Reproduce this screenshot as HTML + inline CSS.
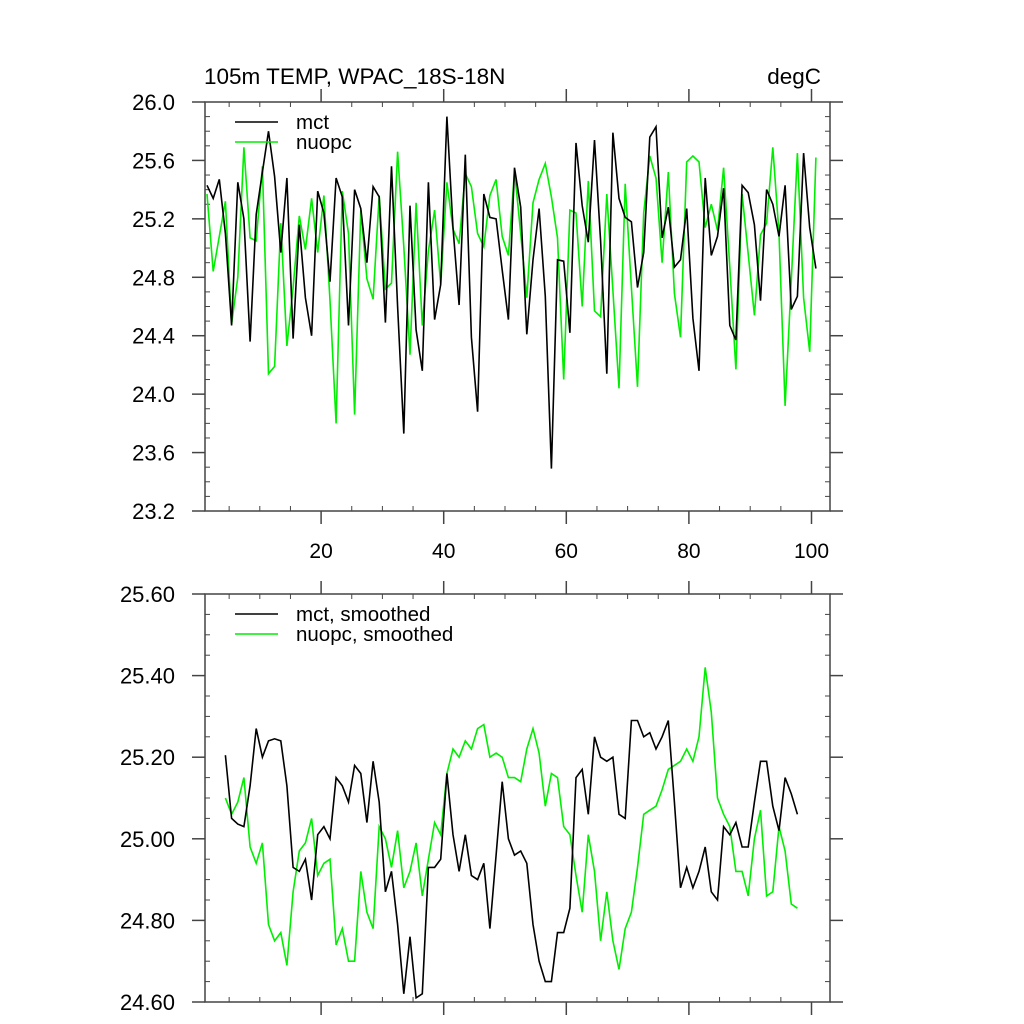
<!DOCTYPE html>
<html><head><meta charset="utf-8"><style>
html,body{margin:0;padding:0;background:#fff}
svg{display:block;font-family:"Liberation Sans",sans-serif}
</style></head><body>
<svg id="chart" width="1024" height="1024" viewBox="0 0 1024 1024" xmlns="http://www.w3.org/2000/svg">
<rect width="1024" height="1024" fill="#fff"/>
<text x="204" y="84" font-size="22.5" fill="#000">105m TEMP, WPAC_18S-18N</text>
<text x="821" y="84" font-size="22.5" fill="#000" text-anchor="end">degC</text>
<g id="top"></g>
<g id="bot"></g>
</svg>
<script>
const mctRaw=[25.43,25.34,25.47,25.10,24.47,25.45,25.20,24.36,25.23,25.52,25.80,25.49,24.97,25.48,24.38,25.16,24.66,24.40,25.39,25.24,24.77,25.48,25.35,24.47,25.40,25.27,24.90,25.42,25.35,24.49,25.56,24.60,23.73,25.29,24.44,24.16,25.45,24.51,24.75,25.90,25.14,24.61,25.64,24.39,23.88,25.37,25.21,25.20,24.85,24.51,25.55,25.28,24.41,24.92,25.27,24.67,23.49,24.92,24.91,24.42,25.72,25.29,25.04,25.74,25.05,24.14,25.79,25.34,25.21,25.18,24.73,24.97,25.76,25.83,25.07,25.28,24.87,24.92,25.27,24.52,24.16,25.48,24.95,25.08,25.41,24.47,24.37,25.43,25.38,25.16,24.64,25.40,25.30,25.08,25.43,24.58,24.67,25.65,25.14,24.86];
const nuopcRaw=[25.37,24.84,25.08,25.32,24.48,24.80,25.69,25.07,25.05,25.56,24.14,24.19,25.17,24.33,24.73,25.22,24.99,25.34,24.97,25.36,24.64,23.80,25.39,25.10,23.86,25.26,24.79,24.65,25.36,24.72,24.76,25.66,25.01,24.27,25.31,24.47,24.98,25.26,24.75,25.45,25.13,25.03,25.51,25.42,25.10,25.01,25.36,25.47,25.08,24.95,25.53,25.10,24.66,25.31,25.47,25.58,25.35,25.07,24.10,25.26,25.24,24.60,25.46,24.57,24.53,25.37,24.71,24.04,25.44,24.73,24.05,25.24,25.63,25.48,24.90,25.52,24.69,24.39,25.59,25.63,25.59,25.14,25.30,25.12,25.55,24.87,24.17,25.37,24.96,24.54,25.09,25.17,25.69,25.10,23.92,24.78,25.65,24.66,24.29,25.62];
const mctSmooth=[25.205,25.05,25.036,25.03,25.13,25.27,25.20,25.24,25.245,25.24,25.13,24.93,24.92,24.95,24.85,25.01,25.03,25.00,25.15,25.13,25.09,25.18,25.16,25.04,25.19,25.09,24.87,24.92,24.79,24.62,24.76,24.61,24.62,24.93,24.93,24.95,25.16,25.01,24.92,25.01,24.91,24.90,24.94,24.78,24.96,25.14,25.00,24.96,24.97,24.94,24.79,24.70,24.65,24.65,24.77,24.77,24.83,25.15,25.17,25.06,25.25,25.20,25.19,25.20,25.06,25.05,25.29,25.29,25.25,25.26,25.22,25.25,25.29,25.09,24.88,24.93,24.88,24.92,24.98,24.87,24.85,25.03,25.01,25.04,24.98,24.98,25.09,25.19,25.19,25.08,25.02,25.15,25.11,25.06];
const nuopcSmooth=[25.10,25.06,25.09,25.15,24.98,24.94,24.99,24.79,24.75,24.77,24.69,24.87,24.97,24.99,25.05,24.91,24.94,24.95,24.74,24.78,24.70,24.70,24.92,24.82,24.78,25.03,25.00,24.93,25.02,24.88,24.92,24.99,24.86,24.95,25.04,25.01,25.16,25.22,25.20,25.24,25.22,25.27,25.28,25.20,25.21,25.20,25.15,25.15,25.14,25.22,25.27,25.21,25.08,25.16,25.15,25.03,25.01,24.91,24.82,25.01,24.92,24.75,24.87,24.75,24.68,24.78,24.82,24.93,25.06,25.07,25.08,25.12,25.17,25.18,25.19,25.22,25.19,25.25,25.42,25.31,25.10,25.06,25.03,24.92,24.92,24.86,25.00,25.07,24.86,24.87,25.03,24.97,24.84,24.83];
const rawStartX=1;
const smoothStartX=4;
const xTicks=[20,40,60,80,100];
const topYTicks=[26.0,25.6,25.2,24.8,24.4,24.0,23.6,23.2];
const botYTicks=[25.60,25.40,25.20,25.00,24.80,24.60];

const NS="http://www.w3.org/2000/svg";
function mk(tag,attrs,parent){const e=document.createElementNS(NS,tag);for(const k in attrs)e.setAttribute(k,attrs[k]);parent.appendChild(e);return e;}
const L=205,R=830;
const xs=v=>207+(v-1)*6.15;
const xTickPos=v=>198.5+v*6.13;

function panel(g,top,bottom,ymin,ymax,major,minor,yTicks,dec,series,startX,legend,showXLabels){
  const ys=v=>bottom-(v-ymin)/(ymax-ymin)*(bottom-top);
  const ax="#444";
  for(let v=5;v<=100;v+=5){
    const x=xTickPos(v);
    if(v%20===0){
      const t1=mk('line',{x1:x,x2:x,y1:bottom,y2:bottom+13,stroke:ax,'stroke-width':1.5},g);
      
      
      const t2=mk('line',{x1:x,x2:x,y1:top,y2:top-13,stroke:ax,'stroke-width':1.5},g);
      
      
    } else {
      const t1=mk('line',{x1:x,x2:x,y1:bottom,y2:bottom-5,stroke:ax,'stroke-width':1},g);
      
      
      const t2=mk('line',{x1:x,x2:x,y1:top,y2:top+5,stroke:ax,'stroke-width':1},g);
      
      
    }
  }
  if(showXLabels){
    xTicks.forEach(v=>{
      const t=mk('text',{x:xTickPos(v),y:bottom+47,'font-size':21,'text-anchor':'middle',fill:'#000'},g);
      t.textContent=v;
      
      
    });
  }
  const n=Math.round((ymax-ymin)/minor);
  for(let i=0;i<=n;i++){
    const v=ymin+i*minor,y=ys(v);
    if(i%Math.round(major/minor)===0){
      const a=mk('line',{x1:L-13,x2:L,y1:y,y2:y,stroke:ax,'stroke-width':1.5},g);
      
      
      const b=mk('line',{x1:R,x2:R+13,y1:y,y2:y,stroke:ax,'stroke-width':1.5},g);
      
      
    } else {
      const a=mk('line',{x1:L,x2:L+5,y1:y,y2:y,stroke:ax,'stroke-width':1},g);
      
      
      const b=mk('line',{x1:R-5,x2:R,y1:y,y2:y,stroke:ax,'stroke-width':1},g);
      
      
    }
  }
  yTicks.forEach(v=>{
    const t=mk('text',{x:175,y:ys(v)+8,'font-size':22,'text-anchor':'end',fill:'#000'},g);
    t.textContent=v.toFixed(dec);
    
    
  });
  const fr=mk('rect',{x:L,y:top,width:R-L,height:bottom-top,fill:'none',stroke:ax,'stroke-width':1.5},g);
  
  
  series.forEach(s=>{
    const pts=s.data.map((v,i)=>xs(startX+i).toFixed(1)+','+ys(v).toFixed(1)).join(' ');
    const p=mk('polyline',{points:pts,fill:'none',stroke:s.color,'stroke-width':1.6,'stroke-linejoin':'miter'},g);
    
    
  });
  legend.forEach((lg,i)=>{
    const y=top+20+i*20;
    const l=mk('line',{x1:235,x2:278,y1:y,y2:y,stroke:lg.color,'stroke-width':1.6},g);
    
    
    const t=mk('text',{x:296,y:y+7,'font-size':20.5,fill:'#000'},g);
    t.textContent=lg.label;
    
    
  });
}
panel(document.getElementById('top'),102,511,23.2,26.0,0.4,0.1,topYTicks,1,
 [{data:nuopcRaw,color:'#00ee00',name:'nuopc-line'},{data:mctRaw,color:'#000',name:'mct-line'}],rawStartX,
 [{label:'mct',color:'#000'},{label:'nuopc',color:'#00ee00'}],true);
panel(document.getElementById('bot'),594,1002,24.6,25.6,0.2,0.05,botYTicks,2,
 [{data:nuopcSmooth,color:'#00ee00',name:'nuopc-smoothed-line'},{data:mctSmooth,color:'#000',name:'mct-smoothed-line'}],smoothStartX,
 [{label:'mct, smoothed',color:'#000'},{label:'nuopc, smoothed',color:'#00ee00'}],false);
</script>
</body></html>
